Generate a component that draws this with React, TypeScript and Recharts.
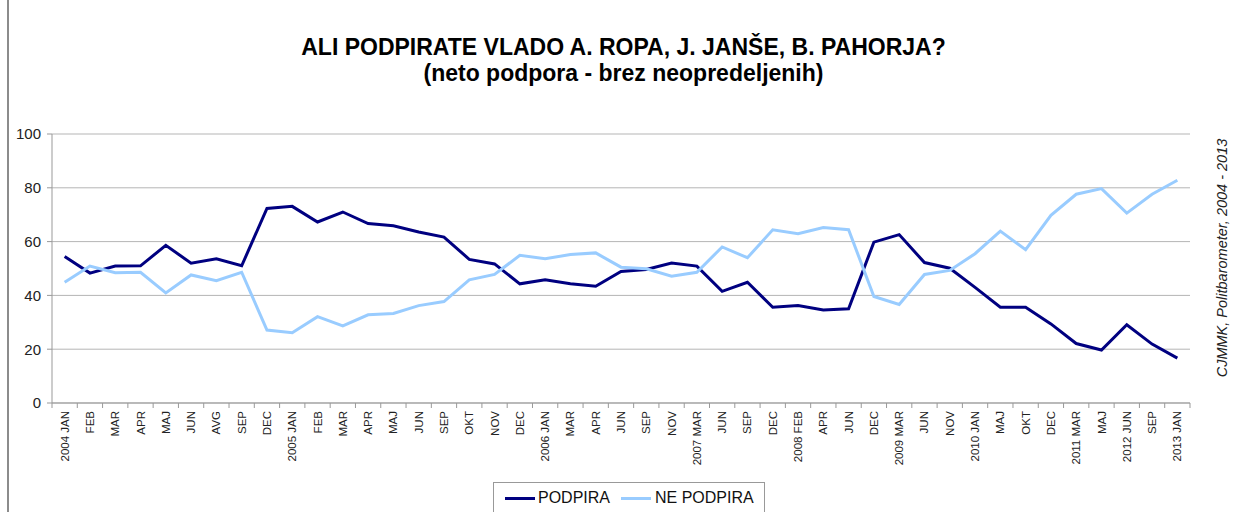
import { LineChart, Line, XAxis, YAxis, CartesianGrid } from 'recharts';

// #region Data
const categories = [
    '2004 JAN', 'FEB', 'MAR', 'APR', 'MAJ', 'JUN', 'AVG', 'SEP', 'DEC',
    '2005 JAN', 'FEB', 'MAR', 'APR', 'MAJ', 'JUN', 'SEP', 'OKT', 'NOV', 'DEC',
    '2006 JAN', 'MAR', 'APR', 'JUN', 'SEP', 'NOV',
    '2007 MAR', 'JUN', 'SEP', 'DEC',
    '2008 FEB', 'APR', 'JUN', 'DEC',
    '2009 MAR', 'JUN', 'NOV',
    '2010 JAN', 'MAJ', 'OKT', 'DEC',
    '2011 MAR', 'MAJ',
    '2012 JUN', 'SEP',
    '2013 JAN',
];

const podpira = [
    54.5, 48.3, 50.9, 51, 58.6, 52, 53.6, 51,
    72.3, 73.1, 67.3, 71, 66.7, 65.9, 63.6,
    61.7, 53.4, 51.7, 44.3, 45.8, 44.3, 43.4,
    48.9, 49.6, 52, 50.9, 41.5, 44.9, 35.6,
    36.2, 34.6, 35, 59.8, 62.6, 52.2, 50.1,
    43, 35.6, 35.6, 29.4, 22.1, 19.7, 29.1, 21.9, 16.7,
];

const nePodpira = [
    44.9, 50.9, 48.4, 48.6, 40.9, 47.6, 45.5, 48.6,
    27.1, 26.1, 32.1, 28.7, 32.8, 33.3, 36.2,
    37.7, 45.8, 47.8, 54.9, 53.6, 55.2, 55.8,
    50.5, 49.9, 47.1, 48.6, 58, 54, 64.4,
    62.9, 65.2, 64.4, 39.6, 36.6, 47.8, 49.3,
    55.5, 63.9, 57, 69.8, 77.6, 79.7, 70.6, 77.6, 82.8,
];

const yTicks = [0, 20, 40, 60, 80, 100];
// #endregion

const data = categories.map((cat, i) => ({
    cat,
    podpira: podpira[i],
    nePodpira: nePodpira[i],
}));

const W = 1247;
const H = 512;
const PLOT_LEFT = 52;
const PLOT_RIGHT = 1190;
const PLOT_TOP = 134;
const PLOT_BOTTOM = 403;
const HALF_BAND = (PLOT_RIGHT - PLOT_LEFT) / categories.length / 2;
const FONT = '"Liberation Sans", Arial, sans-serif';

const CategoryTick = (props: any) => {
    const { x, y, payload, index } = props;
    return (
        <g>
            <line x1={x - HALF_BAND} x2={x - HALF_BAND} y1={y} y2={y + 5} stroke="#999" />
            {index === categories.length - 1 && (
                <line x1={x + HALF_BAND} x2={x + HALF_BAND} y1={y} y2={y + 5} stroke="#999" />
            )}
            <text
                transform={`translate(${x},${y + 8}) rotate(-90)`}
                textAnchor="end"
                dy="0.35em"
                fontSize={11.5}
                fontFamily={FONT}
                fill="#222"
            >
                {payload.value}
            </text>
        </g>
    );
};

export default function App() {
    return (
        <div style={{ position: 'absolute', left: 0, top: 0, width: W, height: H, background: '#fff', fontFamily: FONT, overflow: 'hidden' }}>
            <div style={{ position: 'absolute', left: 7, top: 0, width: 2, height: H, background: '#8c8c8c' }} />
            <div style={{ position: 'absolute', left: 0, width: W, top: 34, textAlign: 'center', fontWeight: 'bold', fontSize: 23, color: '#000', lineHeight: '26px' }}>
                ALI PODPIRATE VLADO A. ROPA, J. JANŠE, B. PAHORJA?
                <br />
                (neto podpora - brez neopredeljenih)
            </div>

            <LineChart
                width={W}
                height={H}
                data={data}
                margin={{ top: PLOT_TOP, right: W - PLOT_RIGHT, left: 0, bottom: 0 }}
            >
                <CartesianGrid vertical={false} stroke="#b5b5b5" />
                <XAxis
                    dataKey="cat"
                    interval={0}
                    padding={{ left: HALF_BAND, right: HALF_BAND }}
                    tick={<CategoryTick />}
                    tickLine={false}
                    tickSize={0}
                    tickMargin={0}
                    height={H - PLOT_BOTTOM}
                    axisLine={{ stroke: '#999' }}
                />
                <YAxis
                    domain={[0, 100]}
                    ticks={yTicks}
                    width={PLOT_LEFT}
                    tickSize={5}
                    tickMargin={6}
                    tickLine={{ stroke: '#999' }}
                    axisLine={{ stroke: '#999' }}
                    tick={{ fontSize: 15, fill: '#222', fontFamily: FONT }}
                />
                <YAxis
                    yAxisId="r"
                    orientation="right"
                    domain={[0, 100]}
                    width={0}
                    tick={false}
                    tickLine={false}
                    axisLine={{ stroke: '#bbb' }}
                />
                <Line dataKey="podpira" name="PODPIRA" stroke="#000080" strokeWidth={3} dot={false} isAnimationActive={false} />
                <Line dataKey="nePodpira" name="NE PODPIRA" stroke="#99ccff" strokeWidth={3} dot={false} isAnimationActive={false} />
            </LineChart>

            <div
                style={{
                    position: 'absolute', left: 1222, top: 258, transform: 'translate(-50%, -50%) rotate(-90deg)',
                    whiteSpace: 'nowrap', fontStyle: 'italic', fontSize: 14.5, color: '#222',
                }}
            >
                CJMMK, Politbarometer, 2004 - 2013
            </div>

            <div
                style={{
                    position: 'absolute', left: 493, top: 482, width: 272, height: 32, boxSizing: 'border-box',
                    border: '1px solid #999', display: 'flex', alignItems: 'center', fontSize: 16, color: '#111',
                }}
            >
                <span style={{ marginLeft: 11, width: 30, height: 3, background: '#000080' }} />
                <span style={{ marginLeft: 3 }}>PODPIRA</span>
                <span style={{ marginLeft: 11, width: 30, height: 3, background: '#99ccff' }} />
                <span style={{ marginLeft: 4 }}>NE PODPIRA</span>
            </div>
        </div>
    );
}
